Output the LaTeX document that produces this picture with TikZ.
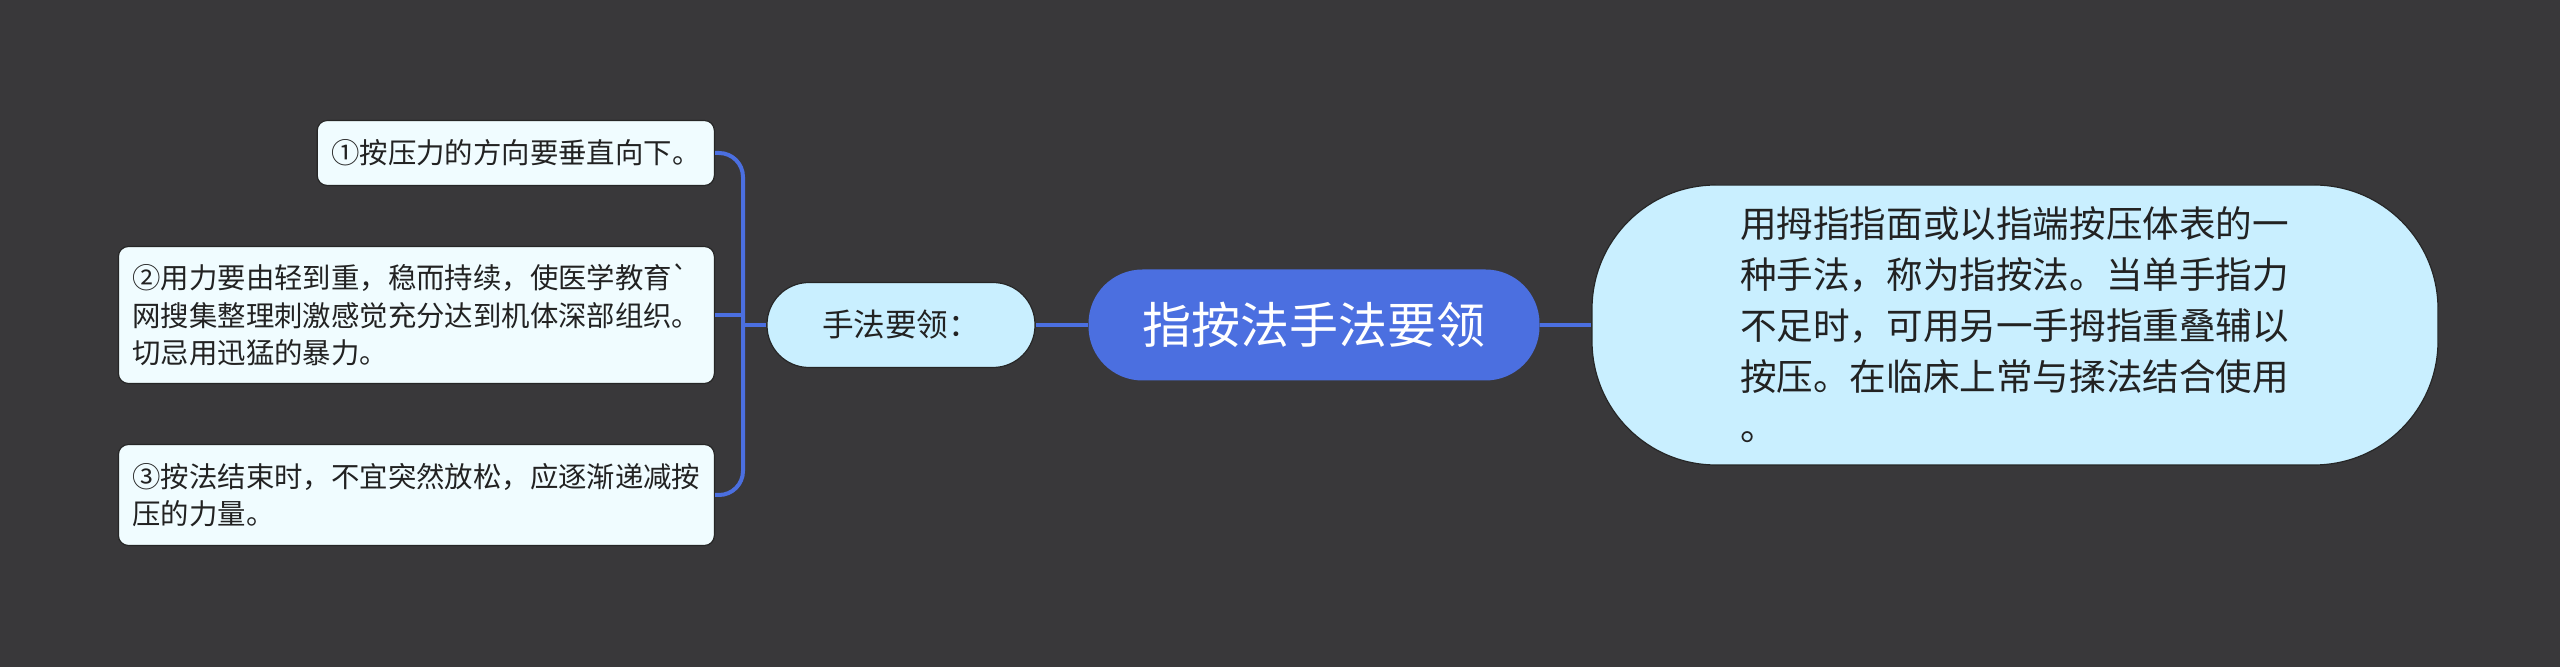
\documentclass[tikz,border=0pt]{standalone}
\usepackage{fontspec}
\newfontfamily\cjk{Noto Sans CJK SC}
\definecolor{bgc}{HTML}{39383A}
\definecolor{rootc}{HTML}{4B6FE0}
\definecolor{subc}{HTML}{C9EFFF}
\definecolor{leafc}{HTML}{F0FCFF}
\definecolor{txtc}{HTML}{222222}
\definecolor{edgec}{HTML}{262626}

\begin{document}
\begin{tikzpicture}[x=0.5pt,y=-0.5pt,
  link/.style={draw=rootc,line width=2pt},
  leaf/.style={draw=edgec,line width=0.6pt,fill=leafc,rounded corners=5pt,align=left,text=txtc,
    inner xsep=7pt,inner ysep=0pt,anchor=east,font=\cjk\fontsize{14.2}{18.8}\selectfont}]
  \fill[bgc] (0,0) rectangle (2560,667);
  % centre and the long note on the right
  \node[fill=rootc,text=white,rounded corners=27pt,minimum width=225.5pt,minimum height=55.5pt,
    font=\cjk\fontsize{24.5}{28}\selectfont] (root) at (1314,325) {指按法手法要领};
  \node[draw=edgec,line width=0.6pt,fill=subc,text=txtc,rounded corners=62pt,minimum width=423pt,minimum height=140pt,
    text width=275pt,align=left,font=\cjk\fontsize{18.3}{25.4}\selectfont] (note) at (2015,325)
    {用拇指指面或以指端按压体表的一\\种手法，称为指按法。当单手指力\\不足时，可用另一手拇指重叠辅以\\按压。在临床上常与揉法结合使用\\。};
  \node[draw=edgec,line width=0.6pt,fill=subc,text=txtc,rounded corners=21pt,minimum width=134pt,minimum height=42.5pt,
    font=\cjk\fontsize{15.8}{18}\selectfont] (way) at (901,325) {手法要领：};
  % three points
  \node[leaf,minimum height=32.5pt] (p1) at (715,153) {①按压力的方向要垂直向下。};
  \node[leaf,minimum height=68.5pt] (p2) at (715,315) {②用力要由轻到重，稳而持续，使医学教育`\\网搜集整理刺激感觉充分达到机体深部组织。\\切忌用迅猛的暴力。};
  \node[leaf,minimum height=50.5pt] (p3) at (715,495) {③按法结束时，不宜突然放松，应逐渐递减按\\压的力量。};
  \coordinate (J) at (743,325);
  \draw[link] (root.east) -- (note.west); \draw[link] (root.west) -- (way.east);
  \draw[link] (way.west) -- (J);
  \draw[link,rounded corners=12pt] (J) |- (p1.east); \draw[link,rounded corners=12pt] (J) |- (p3.east);
  \draw[link] (J |- p2.east) -- (p2.east);
\end{tikzpicture}
\end{document}
